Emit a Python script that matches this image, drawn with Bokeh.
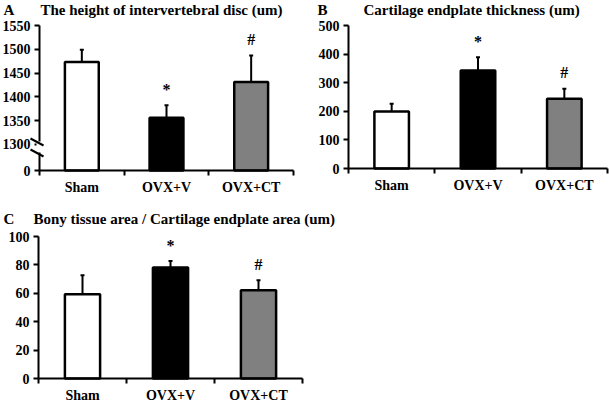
from bokeh.plotting import figure
from bokeh.models import Range1d, FixedTicker, Whisker, TeeHead, Label, Arrow, ColumnDataSource
from bokeh.layouts import column, row
from bokeh.embed import file_html
from bokeh.resources import INLINE
from bokeh.core.properties import value

# ---- data ----
categories = ["Sham", "OVX+V", "OVX+CT"]
marks = ["", "*", "#"]
height_mean = [1473, 1356, 1431]
height_err = [26, 26, 56]
thick_mean = [199, 343, 244]
thick_err = [27, 46, 35]
bony_mean = [59.4, 78.1, 62.2]
bony_err = [13.3, 4.6, 7.0]
height_ticks = [1300, 1350, 1400, 1450, 1500, 1550]
thick_ticks = [0, 100, 200, 300, 400, 500]
bony_ticks = [0, 20, 40, 60, 80, 100]
fills = ["#ffffff", "#000000", "#808080"]

FONT = "Liberation Serif"


class Geo:
    """page-pixel layout of one panel (frame covers the whole figure)"""
    def __init__(self, fx, fy, fw, fh, al, ar, at, ab, n, base, top):
        self.fx, self.fy, self.fw, self.fh = fx, fy, fw, fh
        self.al, self.ab = al, ab
        self.sx = (ar - al) / n
        self.sy = (ab - at) / (top - base)
        self.base = base

    def dx(self, px):
        return (px - self.al) / self.sx

    def dy(self, py):
        return self.base + (self.ab - py) / self.sy

    def xr(self):
        return Range1d(self.dx(self.fx), self.dx(self.fx + self.fw))

    def yr(self):
        return Range1d(self.dy(self.fy + self.fh), self.dy(self.fy))


def panel(letter, title, means, errs, base, top, yticks, overrides, g,
          letter_x, title_x, title_base, title_size):
    n = len(categories)
    xs = [i + 0.5 for i in range(n)]
    p = figure(width=g.fw, height=g.fh, x_range=g.xr(), y_range=g.yr(),
               output_backend="svg", toolbar_location=None,
               min_border_left=0, min_border_right=0,
               min_border_top=0, min_border_bottom=0)
    p.outline_line_color = None
    p.grid.visible = False
    p.title.visible = False
    p.background_fill_color = "white"
    p.border_fill_color = "white"

    src = ColumnDataSource(dict(x=xs, top=means, hi=[m + e for m, e in zip(means, errs)],
                                fill=fills, mark=marks))
    p.vbar(x="x", top="top", bottom=base, width=0.4, fill_color="fill",
           line_color="black", line_width=2.5, source=src)
    p.add_layout(Whisker(source=src, base="x", lower="top", upper="hi",
                         line_width=2, line_color="black",
                         upper_head=TeeHead(size=4, line_width=2, line_color="black"),
                         lower_head=None))
    p.text(x="x", y="hi", text="mark", source=src, y_offset=-16,
           text_align="center", text_baseline="alphabetic",
           text_font=value(FONT), text_font_style="bold", text_font_size="16px",
           text_color="black")

    p.add_layout(Label(x=g.dx(letter_x), y=g.dy(title_base), text=letter,
                       text_font=FONT, text_font_style="bold", text_font_size=title_size,
                       text_align="left", text_baseline="alphabetic", text_color="black"))
    p.add_layout(Label(x=g.dx(title_x), y=g.dy(title_base), text=title,
                       text_font=FONT, text_font_style="bold", text_font_size=title_size,
                       text_align="left", text_baseline="alphabetic", text_color="black"))

    xa = p.xaxis[0]
    xa.fixed_location = base
    xa.bounds = (0, n)
    xa.ticker = FixedTicker(ticks=xs, minor_ticks=list(range(n + 1)))
    xa.major_label_overrides = {x: c for x, c in zip(xs, categories)}
    xa.major_tick_in = 0
    xa.major_tick_out = 0
    xa.minor_tick_in = 0
    xa.minor_tick_out = 5
    xa.minor_tick_line_width = 2
    xa.minor_tick_line_color = "black"
    xa.major_label_standoff = 4

    ya = p.yaxis[0]
    ya.fixed_location = 0
    ya.bounds = (base, top)
    ya.ticker = FixedTicker(ticks=yticks, minor_ticks=[])
    ya.major_label_overrides = overrides
    ya.major_tick_in = 0
    ya.major_tick_out = 5
    ya.major_tick_line_width = 2
    ya.major_label_standoff = 4

    for ax in (xa, ya):
        ax.axis_line_width = 2
        ax.axis_line_color = "black"
        ax.major_tick_line_color = "black"
        ax.major_label_text_font = FONT
        ax.major_label_text_font_style = "bold"
        ax.major_label_text_font_size = "14px"
        ax.major_label_text_color = "black"
    return p


n = len(categories)
hbase = 1245
gA = Geo(0, 0, 300, 197, 39, 293, 25, 170, n, hbase, 1550)
pA = panel("A", "The height of intervertebral disc (um)", height_mean, height_err,
           hbase, 1550, [hbase] + height_ticks, {hbase: "0"}, gA, 3, 40, 9, "15px")
# axis break marks (page-pixel geometry converted to data units)
pA.add_layout(Arrow(end=None, x_start=0, y_start=gA.dy(141), x_end=0, y_end=gA.dy(152),
                    line_color="white", line_width=6))
pA.add_layout(Arrow(end=None, x_start=gA.dx(30), y_start=gA.dy(138), x_end=gA.dx(43),
                    y_end=gA.dy(145), line_color="black", line_width=2))
pA.add_layout(Arrow(end=None, x_start=gA.dx(30), y_start=gA.dy(149), x_end=gA.dx(43),
                    y_end=gA.dy(156), line_color="black", line_width=2))

gB = Geo(300, 0, 309, 197, 348, 607, 25, 168, n, 0, 500)
pB = panel("B", "Cartilage endplate thickness (um)", thick_mean, thick_err,
           0, 500, thick_ticks, {}, gB, 317, 363, 9, "15px")

gC = Geo(0, 197, 360, 204, 38, 302, 236, 378, n, 0, 100)
pC = panel("C", "Bony tissue area / Cartilage endplate area (um)", bony_mean, bony_err,
           0, 100, bony_ticks, {}, gC, 3, 33, 218, "15px")

layout = column(row(pA, pB), pC)
open("out.html", "w").write(file_html(layout, INLINE))
